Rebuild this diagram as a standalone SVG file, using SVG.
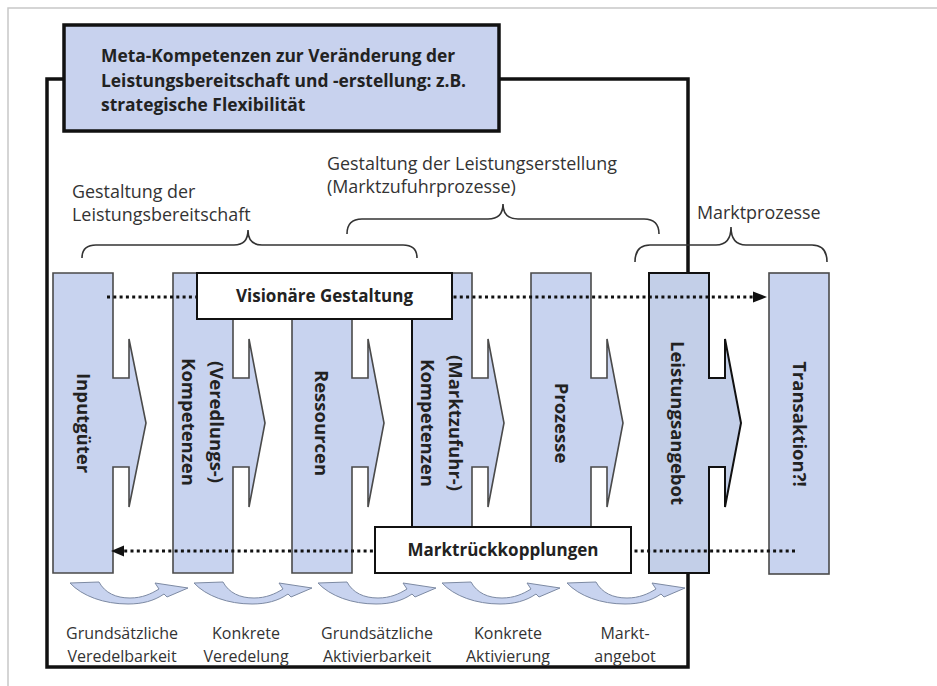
<svg xmlns="http://www.w3.org/2000/svg" width="937" height="686" viewBox="0 0 937 686">
  <style>
    .col { fill: #C8D3EF; stroke: #4a4a4a; stroke-width: 1.6; }
    .col-strong { fill: #C3CFE8; stroke: #111; stroke-width: 2; }
    .box { fill: #ffffff; stroke: #111; stroke-width: 2; }
    .brace { fill: none; stroke: #333; stroke-width: 1.6; }
    .lbl { font-family: "Open Sans", "Liberation Sans", sans-serif; fill: #333; }
    .top { font-size: 17.9px; }
    .bot { font-size: 16px; text-anchor: middle; }
    .bold { font-family: "Open Sans", "Liberation Sans", sans-serif; font-weight: bold; fill: #222; }
    .vert { font-size: 18.5px; text-anchor: middle; }
    .boxtxt { font-size: 17px; text-anchor: middle; }
    .dots { fill: none; stroke: #111; stroke-width: 3; stroke-dasharray: 3 3.3; }
    .curl { fill: #C8D3EF; stroke: #7d8aa3; stroke-width: 1; }
  </style>
  <defs>
    <!-- curved "next step" arrow, drawn from its top-left corner -->
    <path id="curl" d="M0,0 L29,-1 C35,10 46,15 60,15 C72,15 81,11 89,6 L85,0 L118,5 L97,14 L94,11 C84,18 72,21 58,21 C34,21 12,13 0,0 Z"/>
  </defs>

  <rect width="937" height="686" fill="#ffffff"/>
  <!-- outer page edge -->
  <path d="M8,686 V8 H937" fill="none" stroke="#c8c8c8" stroke-width="1.5"/>

  <!-- enclosing frame of the meta-competence scope -->
  <g id="frame">
    <rect x="47" y="79" width="641" height="588" fill="none" stroke="#111" stroke-width="3.5"/>
  </g>

  <g id="meta">
    <rect x="64" y="25" width="435" height="106" fill="#C8D2EE" stroke="#111" stroke-width="3.5"/>
    <text class="bold" font-size="17.4" x="101" y="62">Meta-Kompetenzen zur Veränderung der</text>
    <text class="bold" font-size="17.4" x="101" y="87">Leistungsbereitschaft und -erstellung: z.B.</text>
    <text class="bold" font-size="17.4" x="101" y="111">strategische Flexibilität</text>
  </g>

  <!-- phase braces -->
  <g id="phase-bereitschaft">
    <path class="brace" d="M82,258 Q82,245 96,245 L234,245 Q248,245 248,230 Q248,245 262,245 L403,245 Q417,245 417,258"/>
    <text class="lbl top" x="72" y="198">Gestaltung der</text>
    <text class="lbl top" x="72" y="221">Leistungsbereitschaft</text>
  </g>
  <g id="phase-erstellung">
    <path class="brace" d="M347,234 Q347,219 362,219 L488,219 Q503,219 503,204 Q503,219 518,219 L644,219 Q659,219 659,234"/>
    <text class="lbl top" x="327" y="170">Gestaltung der Leistungserstellung</text>
    <text class="lbl top" x="327" y="193">(Marktzufuhrprozesse)</text>
  </g>
  <g id="phase-markt">
    <path class="brace" d="M635,262 Q635,245 650,245 L716,245 Q731,245 731,227 Q731,245 746,245 L812,245 Q827,245 827,262"/>
    <text class="lbl top" x="697" y="219">Marktprozesse</text>
  </g>

  <!-- value chain columns -->
  <g id="inputgueter">
    <path class="col" d="M53,273 H113 V378 H129 V339 L146,423 L129,507 V467 H113 V573 H53 Z"/>
    <text class="bold vert" transform="translate(83,423) rotate(90)" y="6.5">Inputgüter</text>
  </g>
  <g id="veredlungskompetenzen">
    <path class="col" d="M173,273 H233 V378 H249 V339 L265,423 L249,507 V467 H233 V573 H173 Z"/>
    <text class="bold vert" transform="translate(216,422) rotate(90)" y="6.5">(Veredlungs-)</text>
    <text class="bold vert" transform="translate(188,422) rotate(90)" y="6.5">Kompetenzen</text>
  </g>
  <g id="ressourcen">
    <path class="col" d="M292,273 H352 V378 H368 V339 L384,423 L368,507 V467 H352 V573 H292 Z"/>
    <text class="bold vert" transform="translate(321,423) rotate(90)" y="6.5">Ressourcen</text>
  </g>
  <g id="marktzufuhrkompetenzen">
    <path class="col" d="M412,273 H472 V378 H488 V339 L504,423 L488,507 V467 H472 V573 H412 Z"/>
    <line x1="412" y1="319" x2="412" y2="527" stroke="#111" stroke-width="2"/>
    <text class="bold vert" transform="translate(455,423) rotate(90)" y="6.5">(Marktzufuhr-)</text>
    <text class="bold vert" transform="translate(427,423) rotate(90)" y="6.5">Kompetenzen</text>
  </g>
  <g id="prozesse">
    <path class="col" d="M531,273 H591 V378 H607 V339 L623,423 L607,507 V467 H591 V573 H531 Z"/>
    <text class="bold vert" transform="translate(561,423) rotate(90)" y="6.5">Prozesse</text>
  </g>
  <g id="leistungsangebot">
    <path class="col-strong" d="M649,273 H709 V378 H725 V339 L741,423 L725,507 V467 H709 V573 H649 Z"/>
    <text class="bold vert" transform="translate(677,423) rotate(90)" y="6.5">Leistungsangebot</text>
  </g>
  <g id="transaktion">
    <rect class="col" x="769" y="273" width="60" height="301"/>
    <text class="bold vert" transform="translate(799,424) rotate(90)" y="6.5">Transaktion?!</text>
  </g>

  <!-- dotted flows -->
  <g id="connectors">
    <line class="dots" x1="107" y1="297" x2="753" y2="297"/>
    <path d="M753,291.5 L767,297 L753,302.5 Z" fill="#111"/>
    <line class="dots" x1="795" y1="551" x2="124" y2="551"/>
    <path d="M124,545.5 L111,551 L124,556.5 Z" fill="#111"/>
  </g>

  <g id="visionaere-gestaltung">
    <rect class="box" x="197" y="273" width="255" height="46"/>
    <text class="bold boxtxt" x="324.5" y="302">Visionäre Gestaltung</text>
  </g>
  <g id="marktrueckkopplungen">
    <rect class="box" x="375" y="527" width="256" height="46"/>
    <text class="bold boxtxt" x="503" y="556">Marktrückkopplungen</text>
  </g>

  <!-- transition steps -->
  <g id="steps">
    <use href="#curl" class="curl" x="70" y="583"/>
    <use href="#curl" class="curl" x="194" y="583"/>
    <use href="#curl" class="curl" x="318" y="583"/>
    <use href="#curl" class="curl" x="442" y="583"/>
    <use href="#curl" class="curl" x="567" y="583"/>
  </g>
  <g id="step-labels">
    <text class="lbl bot" x="122" y="639">Grundsätzliche</text>
    <text class="lbl bot" x="122" y="662">Veredelbarkeit</text>
    <text class="lbl bot" x="246" y="639">Konkrete</text>
    <text class="lbl bot" x="246" y="662">Veredelung</text>
    <text class="lbl bot" x="377" y="639">Grundsätzliche</text>
    <text class="lbl bot" x="377" y="662">Aktivierbarkeit</text>
    <text class="lbl bot" x="508" y="639">Konkrete</text>
    <text class="lbl bot" x="508" y="662">Aktivierung</text>
    <text class="lbl bot" x="625" y="639">Markt-</text>
    <text class="lbl bot" x="625" y="662">angebot</text>
  </g>
</svg>
